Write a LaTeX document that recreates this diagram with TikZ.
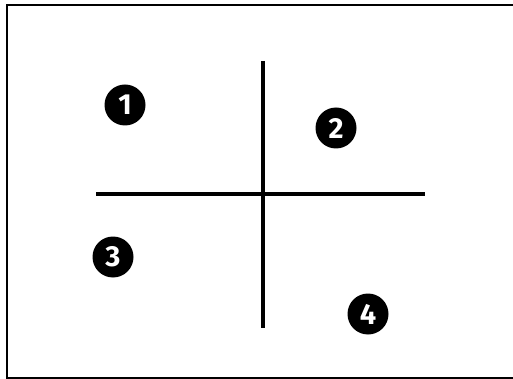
\documentclass[tikz,border=0pt]{standalone}
\usepackage{fontspec}
\setmainfont{Fira Sans}
\begin{document}
\begin{tikzpicture}[x=1pt,y=-1pt,
  num/.style={circle,fill=black,text=white,minimum size=41pt,inner sep=0pt,font=\fontsize{29}{29}\selectfont\bfseries},
  axis/.style={line width=3.5pt},
  frame/.style={line width=2.5pt}]
\useasboundingbox (0,0) rectangle (513,379);
\coordinate (tr) at (513,5);
\coordinate (tl) at (7,5);
\coordinate (bl) at (7,378);
\coordinate (br) at (513,378);
\draw[frame] (tr) -- (tl) -- (bl) -- (br);
\coordinate (hl) at (96,194);
\coordinate (hr) at (425,194);
\coordinate (vt) at (263,61);
\coordinate (vb) at (263,328);
\draw[axis] (hl) -- (hr);
\draw[axis] (vt) -- (vb);
\node[num] (n1) at (125,105) {1};
\node[num] (n2) at (336,128) {2};
\node[num] (n3) at (113,257) {3};
\node[num] (n4) at (368,314) {4};
\end{tikzpicture}
\end{document}
